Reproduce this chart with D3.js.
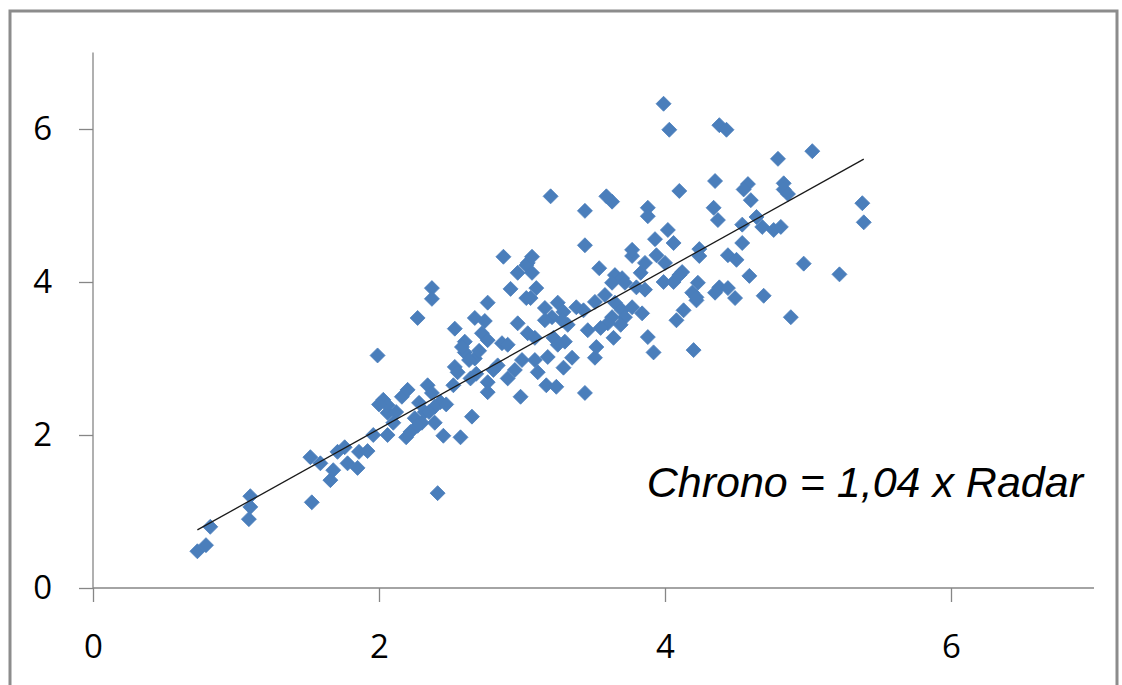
<!DOCTYPE html>
<html><head><meta charset="utf-8">
<script src="https://cdn.jsdelivr.net/npm/d3@7"></script>
<style>
html,body{margin:0;padding:0;background:#fff;}
svg{display:block;}
</style></head>
<body>
<svg id="chart" width="1122" height="685"></svg>
<script>
// Data (Radar x, Chrono y)
const radar = [
0.73,0.79,0.82,1.10,1.10,1.09,1.53,1.52,1.59,1.66,1.68,1.71,1.76,1.78,1.85,1.86,1.92,1.96,1.99,
2.06,2.10,2.06,2.19,2.22,2.25,2.30,2.32,2.39,2.45,2.57,2.65,2.41,2.03,2.06,2.16,2.20,2.34,2.37,2.43,2.39,2.52,2.00,2.12,2.28,2.35,2.47,2.27,
2.37,2.37,2.27,2.76,2.67,2.74,2.53,2.97,2.72,2.60,2.76,2.86,2.90,2.60,2.67,2.53,2.55,2.64,2.76,2.76,2.83,2.90,2.99,3.00,2.87,2.97,3.03,2.92,3.03,2.58,2.70,2.63,2.80,2.95,2.68,
3.04,3.07,3.10,3.06,3.16,3.25,3.29,3.21,3.38,3.43,3.28,3.16,3.32,3.09,3.04,3.22,3.30,3.25,3.35,3.18,3.09,3.11,3.29,3.17,3.24,3.44,3.20,3.44,3.44,3.07,3.46,3.51,3.52,
3.51,3.58,3.65,3.70,3.72,3.63,3.60,3.69,3.84,3.77,3.55,3.64,3.54,3.65,3.70,3.63,3.72,3.80,3.86,3.83,3.86,3.77,3.94,3.88,3.92,3.59,3.63,3.88,3.88,3.93,3.99,3.77,
4.03,4.10,4.02,4.06,4.00,4.12,3.99,4.06,4.10,4.19,4.22,4.13,4.08,4.20,4.24,4.24,4.23,4.22,4.38,4.43,4.35,4.34,4.37,4.44,4.50,4.38,4.44,4.35,4.49,
4.54,4.54,4.58,4.55,4.60,4.64,4.68,4.76,4.81,4.79,4.83,4.83,4.86,5.03,4.59,4.69,4.88,4.97,5.22,5.38,5.39
];
const chrono = [
0.48,0.56,0.80,1.20,1.06,0.90,1.12,1.71,1.63,1.41,1.54,1.78,1.84,1.63,1.57,1.78,1.79,2.00,3.04,
2.00,2.16,2.29,1.97,2.04,2.22,2.16,2.30,2.16,1.99,1.97,2.24,1.24,2.46,2.39,2.50,2.59,2.65,2.55,2.43,2.37,2.65,2.40,2.30,2.42,2.30,2.40,2.12,
3.92,3.78,3.53,3.73,3.53,3.49,3.39,3.46,3.33,3.22,3.24,3.20,3.18,3.08,3.00,2.89,2.82,2.74,2.69,2.56,2.91,2.74,2.50,2.98,4.33,4.12,4.22,3.91,3.79,3.15,3.10,2.98,2.85,2.85,2.80,
4.25,4.12,3.92,3.79,3.66,3.73,3.61,3.54,3.67,3.63,3.50,3.50,3.44,3.27,3.33,3.27,3.22,3.18,3.01,3.02,2.98,2.82,2.88,2.65,2.63,2.55,5.12,4.93,4.48,4.33,3.37,3.01,3.15,
3.74,3.83,3.73,3.63,3.54,3.54,3.46,3.44,3.59,3.67,3.40,3.27,4.18,4.09,4.05,3.99,3.99,3.93,3.90,4.12,4.25,4.34,4.35,3.28,3.08,5.12,5.05,4.97,4.86,4.56,6.33,4.42,
5.99,5.19,4.68,4.51,4.25,4.13,4.00,4.00,4.09,3.86,3.76,3.63,3.50,3.11,4.43,4.34,3.99,3.80,6.05,5.99,5.32,4.97,4.81,4.35,4.29,3.93,3.92,3.86,3.79,
4.75,4.51,5.28,5.21,5.07,4.85,4.72,4.68,4.72,5.61,5.29,5.21,5.15,5.71,4.08,3.82,3.54,4.24,4.10,5.03,4.78
];
const slope = 1.04;
const xTicks = [0, 2, 4, 6];
const yTicks = [0, 2, 4, 6];
const annotation = "Chrono = 1,04 x Radar";

const svg = d3.select("#chart");
const x = d3.scaleLinear().domain([0, 7]).range([93, 1094]);
const y = d3.scaleLinear().domain([0, 7]).range([588, 52.5]);
const axisColor = "#868686";

// frame
svg.append("path")
  .attr("d", "M10,700 L10,11 L1117,11 L1117,700")
  .attr("fill", "none").attr("stroke", "#8c8c8c").attr("stroke-width", 3);

// axes
const yAxis = svg.append("g").attr("transform", `translate(${x(0)},0)`)
  .call(d3.axisLeft(y).tickValues(yTicks).tickSize(14).tickPadding(27).tickFormat(d3.format("d")));
const xAxis = svg.append("g").attr("transform", `translate(0,${y(0)})`)
  .call(d3.axisBottom(x).tickValues(xTicks).tickSize(14).tickPadding(33).tickFormat(d3.format("d")));
[xAxis, yAxis].forEach(g => {
  g.select(".domain").attr("stroke", axisColor).attr("stroke-width", 1.3);
  g.selectAll(".tick line").attr("stroke", axisColor).attr("stroke-width", 1.3);
  g.selectAll("text").attr("fill", "#000").style("font-family", "'Open Sans', 'Noto Sans', sans-serif").style("font-size", "33px");
});
yAxis.select(".domain").attr("d", `M0,${y(7)}V${y(0)}`);
xAxis.select(".domain").attr("d", `M${x(0)},0H${x(7)}`);

// points
const pts = radar.map((r, i) => ({r, c: chrono[i]}));
svg.append("g").selectAll("path").data(pts).enter().append("path")
  .attr("d", "M0,-7.5L7.5,0L0,7.5L-7.5,0Z")
  .attr("transform", d => `translate(${x(d.r)},${y(d.c)})`)
  .attr("fill", "#4a7ebb")
  .attr("stroke", "#4a7ebb").attr("stroke-width", 0.8).attr("stroke-linejoin", "round");

// trend line
const xMin = d3.min(radar), xMax = d3.max(radar);
svg.append("line")
  .attr("x1", x(xMin)).attr("y1", y(slope * xMin))
  .attr("x2", x(xMax)).attr("y2", y(slope * xMax))
  .attr("stroke", "#1a1a1a").attr("stroke-width", 1.3);

// annotation
svg.append("text")
  .attr("x", 1083).attr("y", 497)
  .attr("text-anchor", "end")
  .style("font-family", "'Liberation Sans', Arial, sans-serif")
  .style("font-style", "italic")
  .style("font-size", "43px")
  .attr("fill", "#000")
  .text(annotation);
</script>
</body></html>
